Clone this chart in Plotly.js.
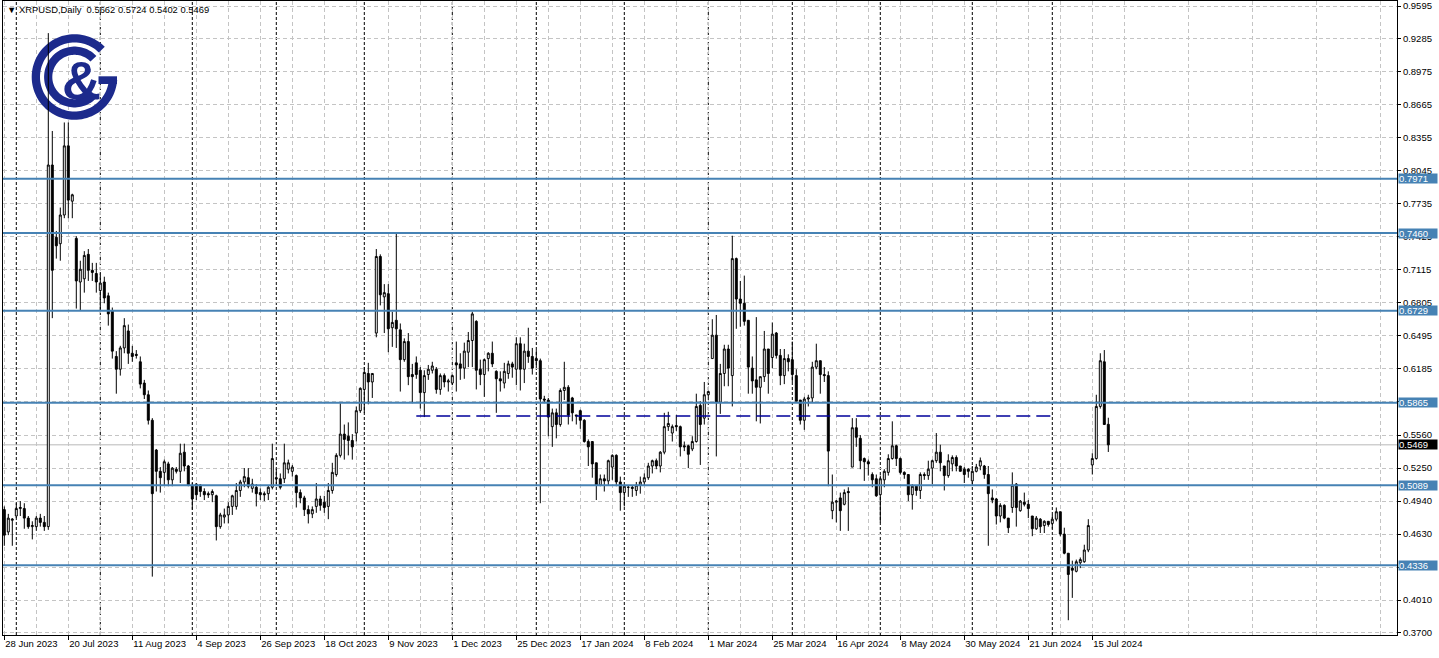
<!DOCTYPE html>
<html>
<head>
<meta charset="utf-8">
<script src="https://cdn.plot.ly/plotly-3.0.1.min.js"></script>
<style>
html,body{margin:0;padding:0;background:#fff;}
#chart{width:1439px;height:658px;}
</style>
</head>
<body>
<div id="chart"></div>
<script>
// ---------- DATA ----------
const symbolTitle = "XRPUSD,Daily";
const lastBarQuote = ["0.5662", "0.5724", "0.5402", "0.5469"];
const firstDate = "2023-06-28";
const holidays = ["2024-01-01"];

const openP = [
0.486,0.465,0.476,0.480,0.487,0.487,0.478,0.470,0.470,0.478,
0.474,0.470,0.810,0.742,0.736,0.763,0.828,0.776,0.741,0.700,
0.703,0.726,0.711,0.708,0.692,0.700,0.687,0.673,0.630,0.618,
0.638,0.654,0.633,0.632,0.625,0.605,0.594,0.570,0.542,0.522,
0.521,0.529,0.514,0.524,0.522,0.540,0.527,0.508,0.510,0.509,
0.503,0.501,0.500,0.499,0.470,0.479,0.481,0.489,0.489,0.504,
0.512,0.516,0.506,0.507,0.502,0.501,0.501,0.507,0.516,0.515,
0.515,0.524,0.522,0.518,0.502,0.497,0.486,0.482,0.489,0.496,
0.493,0.489,0.504,0.519,0.537,0.557,0.555,0.551,0.558,0.579,
0.599,0.614,0.606,0.652,0.724,0.686,0.689,0.657,0.664,0.655,
0.627,0.644,0.613,0.624,0.617,0.596,0.613,0.617,0.618,0.599,
0.612,0.606,0.605,0.624,0.623,0.619,0.634,0.645,0.663,0.618,
0.613,0.628,0.633,0.616,0.609,0.605,0.614,0.623,0.618,0.642,
0.618,0.635,0.630,0.628,0.626,0.590,0.589,0.564,0.577,0.566,
0.598,0.601,0.591,0.575,0.579,0.570,0.550,0.550,0.530,0.509,
0.515,0.513,0.526,0.537,0.512,0.502,0.507,0.507,0.504,0.509,
0.512,0.516,0.527,0.532,0.527,0.540,0.564,0.558,0.565,0.564,
0.546,0.546,0.543,0.550,0.584,0.572,0.594,0.628,0.650,0.587,
0.614,0.637,0.612,0.722,0.684,0.680,0.664,0.619,0.608,0.601,
0.611,0.637,0.629,0.652,0.631,0.612,0.628,0.627,0.612,0.589,
0.570,0.590,0.591,0.620,0.626,0.613,0.612,0.485,0.493,0.497,
0.491,0.503,0.526,0.563,0.553,0.534,0.531,0.519,0.515,0.500,
0.514,0.521,0.534,0.546,0.534,0.521,0.519,0.500,0.508,0.504,
0.519,0.518,0.525,0.532,0.540,0.527,0.518,0.529,0.535,0.527,
0.524,0.524,0.513,0.522,0.527,0.527,0.519,0.497,0.496,0.480,
0.490,0.478,0.488,0.510,0.485,0.493,0.491,0.480,0.468,0.477,
0.471,0.475,0.473,0.477,0.484,0.463,0.445,0.431,0.428,0.436,
0.437,0.448,0.528,0.534,0.583,0.625,0.5662
];
const highP = [
0.489,0.482,0.478,0.492,0.494,0.492,0.480,0.475,0.480,0.482,
0.480,0.934,0.842,0.748,0.770,0.850,0.850,0.783,0.743,0.720,
0.729,0.731,0.718,0.718,0.708,0.705,0.690,0.676,0.635,0.640,
0.666,0.660,0.640,0.636,0.630,0.608,0.598,0.572,0.543,0.526,
0.533,0.531,0.526,0.526,0.548,0.548,0.528,0.511,0.511,0.510,
0.506,0.503,0.505,0.500,0.483,0.487,0.493,0.500,0.511,0.514,
0.525,0.525,0.515,0.510,0.506,0.503,0.509,0.548,0.525,0.520,
0.548,0.533,0.528,0.519,0.505,0.499,0.490,0.489,0.511,0.499,
0.499,0.511,0.530,0.539,0.586,0.566,0.568,0.557,0.583,0.601,
0.620,0.624,0.614,0.731,0.726,0.698,0.698,0.672,0.747,0.661,
0.647,0.652,0.623,0.630,0.620,0.617,0.622,0.625,0.620,0.614,
0.614,0.609,0.613,0.644,0.633,0.643,0.653,0.672,0.664,0.627,
0.628,0.634,0.644,0.617,0.616,0.624,0.626,0.625,0.648,0.648,
0.642,0.657,0.638,0.636,0.628,0.593,0.591,0.581,0.581,0.600,
0.625,0.603,0.592,0.575,0.580,0.571,0.552,0.550,0.530,0.519,
0.519,0.533,0.538,0.538,0.517,0.509,0.509,0.509,0.512,0.517,
0.520,0.530,0.533,0.534,0.541,0.577,0.578,0.566,0.575,0.565,
0.550,0.547,0.555,0.595,0.588,0.606,0.598,0.665,0.669,0.623,
0.641,0.641,0.7435,0.723,0.701,0.706,0.664,0.630,0.667,0.611,
0.654,0.637,0.662,0.653,0.637,0.637,0.632,0.644,0.618,0.589,
0.592,0.594,0.625,0.642,0.626,0.620,0.616,0.519,0.495,0.502,
0.505,0.507,0.572,0.572,0.556,0.535,0.533,0.521,0.519,0.518,
0.524,0.538,0.569,0.547,0.535,0.522,0.519,0.510,0.509,0.521,
0.521,0.532,0.533,0.558,0.547,0.527,0.538,0.537,0.537,0.527,
0.526,0.525,0.527,0.529,0.535,0.528,0.527,0.505,0.497,0.492,
0.491,0.478,0.521,0.511,0.495,0.502,0.495,0.480,0.480,0.478,
0.476,0.475,0.481,0.488,0.484,0.469,0.445,0.438,0.439,0.441,
0.453,0.477,0.539,0.594,0.633,0.636,0.5724
];
const lowP = [
0.452,0.462,0.452,0.478,0.480,0.468,0.468,0.458,0.466,0.470,
0.466,0.467,0.666,0.722,0.720,0.760,0.760,0.760,0.675,0.673,
0.690,0.701,0.701,0.690,0.673,0.680,0.659,0.628,0.595,0.612,
0.633,0.623,0.625,0.628,0.600,0.590,0.566,0.423,0.503,0.502,
0.509,0.508,0.508,0.520,0.511,0.522,0.508,0.486,0.495,0.498,
0.495,0.497,0.493,0.457,0.468,0.473,0.473,0.481,0.486,0.498,
0.507,0.506,0.502,0.489,0.495,0.494,0.495,0.505,0.510,0.505,
0.511,0.520,0.517,0.488,0.492,0.480,0.473,0.478,0.483,0.485,
0.483,0.477,0.501,0.517,0.535,0.533,0.537,0.533,0.550,0.577,
0.577,0.585,0.591,0.648,0.678,0.652,0.634,0.639,0.638,0.597,
0.625,0.603,0.586,0.609,0.581,0.573,0.608,0.614,0.595,0.594,
0.601,0.597,0.603,0.597,0.608,0.609,0.620,0.620,0.599,0.603,
0.592,0.616,0.620,0.577,0.597,0.600,0.609,0.610,0.603,0.598,
0.605,0.624,0.613,0.620,0.492,0.586,0.555,0.545,0.553,0.564,
0.589,0.566,0.569,0.566,0.562,0.549,0.527,0.516,0.495,0.508,
0.503,0.509,0.514,0.508,0.485,0.489,0.498,0.498,0.499,0.501,
0.509,0.514,0.520,0.524,0.521,0.538,0.560,0.550,0.560,0.536,
0.541,0.525,0.541,0.549,0.528,0.566,0.592,0.628,0.536,0.576,
0.602,0.602,0.583,0.656,0.658,0.659,0.595,0.595,0.569,0.567,
0.606,0.595,0.619,0.628,0.603,0.604,0.616,0.606,0.588,0.566,
0.561,0.583,0.587,0.618,0.595,0.606,0.508,0.477,0.474,0.466,
0.490,0.466,0.526,0.545,0.524,0.513,0.518,0.507,0.498,0.474,
0.507,0.518,0.533,0.527,0.519,0.515,0.494,0.486,0.499,0.496,
0.514,0.514,0.510,0.530,0.522,0.504,0.516,0.522,0.522,0.522,
0.511,0.516,0.510,0.521,0.523,0.515,0.452,0.492,0.472,0.474,
0.477,0.464,0.483,0.470,0.484,0.489,0.478,0.461,0.467,0.464,
0.464,0.470,0.468,0.475,0.461,0.444,0.382,0.403,0.427,0.431,
0.436,0.446,0.519,0.533,0.581,0.566,0.5402
];
const closeP = [
0.462,0.478,0.477,0.487,0.488,0.478,0.470,0.471,0.478,0.474,
0.470,0.810,0.711,0.734,0.763,0.828,0.777,0.782,0.701,0.712,
0.725,0.711,0.709,0.700,0.699,0.685,0.670,0.635,0.618,0.638,
0.659,0.633,0.630,0.631,0.604,0.594,0.570,0.501,0.522,0.516,
0.531,0.514,0.525,0.522,0.539,0.527,0.509,0.496,0.500,0.503,
0.500,0.500,0.503,0.470,0.481,0.481,0.489,0.499,0.504,0.512,
0.517,0.508,0.510,0.501,0.500,0.500,0.507,0.534,0.515,0.507,
0.530,0.530,0.526,0.502,0.497,0.486,0.482,0.486,0.496,0.490,
0.488,0.504,0.521,0.537,0.557,0.552,0.551,0.545,0.579,0.600,
0.615,0.606,0.614,0.724,0.688,0.690,0.656,0.662,0.656,0.627,
0.644,0.611,0.611,0.613,0.596,0.612,0.618,0.621,0.599,0.612,
0.606,0.607,0.612,0.622,0.619,0.635,0.645,0.670,0.617,0.613,
0.627,0.633,0.623,0.609,0.607,0.616,0.623,0.620,0.642,0.618,
0.635,0.630,0.619,0.626,0.590,0.589,0.573,0.577,0.566,0.598,
0.601,0.575,0.577,0.574,0.570,0.550,0.545,0.529,0.509,0.515,
0.513,0.532,0.537,0.512,0.502,0.508,0.507,0.506,0.509,0.512,
0.516,0.527,0.532,0.527,0.540,0.564,0.567,0.564,0.564,0.545,
0.545,0.538,0.550,0.583,0.566,0.594,0.597,0.650,0.587,0.614,
0.637,0.619,0.722,0.684,0.680,0.663,0.620,0.607,0.601,0.611,
0.637,0.614,0.651,0.631,0.612,0.628,0.625,0.613,0.588,0.570,
0.590,0.591,0.620,0.626,0.613,0.612,0.541,0.493,0.494,0.485,
0.502,0.502,0.563,0.554,0.532,0.531,0.529,0.514,0.499,0.515,
0.522,0.534,0.546,0.534,0.521,0.519,0.500,0.508,0.504,0.519,
0.518,0.524,0.532,0.540,0.530,0.518,0.532,0.535,0.527,0.522,
0.519,0.522,0.522,0.526,0.532,0.519,0.501,0.495,0.480,0.490,
0.478,0.469,0.509,0.488,0.494,0.491,0.487,0.468,0.478,0.470,
0.475,0.472,0.477,0.484,0.463,0.445,0.425,0.429,0.437,0.439,
0.448,0.471,0.534,0.583,0.626,0.566,0.5469
];

const labelDates = ["2023-06-28","2023-07-20","2023-08-11","2023-09-04","2023-09-26","2023-10-18",
  "2023-11-09","2023-12-01","2023-12-25","2024-01-17","2024-02-08","2024-03-01","2024-03-25",
  "2024-04-16","2024-05-08","2024-05-30","2024-06-21","2024-07-15"];
const labelTexts = ["28 Jun 2023","20 Jul 2023","11 Aug 2023","4 Sep 2023","26 Sep 2023","18 Oct 2023",
  "9 Nov 2023","1 Dec 2023","25 Dec 2023","17 Jan 2024","8 Feb 2024","1 Mar 2024","25 Mar 2024",
  "16 Apr 2024","8 May 2024","30 May 2024","21 Jun 2024","15 Jul 2024"];
const monthStarts = ["2023-07-03","2023-08-01","2023-09-01","2023-10-02","2023-11-01","2023-12-01",
  "2024-01-02","2024-02-01","2024-03-01","2024-04-01","2024-05-01","2024-06-03","2024-07-01"];

const priceTickVals = [0.9595,0.9285,0.8975,0.8665,0.8355,0.8045,0.7735,0.7425,0.7115,0.6805,
  0.6495,0.6185,0.5875,0.5560,0.5250,0.4940,0.4630,0.4320,0.4010,0.3700];
const priceTickText = ["0.9595","0.9285","0.8975","0.8665","0.8355","0.8045","0.7735","0.7425","0.7115","0.6805",
  "0.6495","0.6185","","0.5560","0.5250","0.4940","0.4630","","0.4010","0.3700"];

const levels = [0.7971, 0.7460, 0.6729, 0.5865, 0.5089, 0.4336];
const bidPrice = 0.5469;
const trendLine = {from: "2023-11-20", to: "2024-07-02", price: 0.5740};

// ---------- CALENDAR (trading days: weekdays without holidays) ----------
function tradingDays(start, n, skip) {
  const out = [];
  const d = new Date(start + "T00:00:00Z");
  while (out.length < n) {
    const w = d.getUTCDay();
    const s = d.toISOString().slice(0, 10);
    if (w !== 0 && w !== 6 && skip.indexOf(s) < 0) out.push(s);
    d.setUTCDate(d.getUTCDate() + 1);
  }
  return out;
}
const dates = tradingDays(firstDate, openP.length, holidays);
const idx = dates.map((d, i) => i);
const pos = d => dates.indexOf(d);

// ---------- LAYOUT CONSTANTS ----------
const W = 1439, H = 658;
const mL = 3, mR = 42, mT = 1, mB = 23;
const plotW = W - mL - mR, plotH = H - mT - mB;
const FONT = "Liberation Sans, Arial, sans-serif";
const GRID = "#c4c4c4";
const BLUE = "#4682b4";
const NAVY = "#1c2a8c";

const pxPerBar = 4;
const x0px = 4.3 - mL;
const xRange = [-x0px / pxPerBar, -x0px / pxPerBar + plotW / pxPerBar];
const pxPerUnit = 1063.6;
const yTop = 0.9595 + (6 - mT) / pxPerUnit;
const yBot = yTop - plotH / pxPerUnit;

const trace = {
  type: "candlestick",
  x: idx,
  open: openP, high: highP, low: lowP, close: closeP,
  hovertext: dates, hoverinfo: "text",
  whiskerwidth: 0,
  increasing: {line: {color: "#000000", width: 1}, fillcolor: "#ffffff"},
  decreasing: {line: {color: "#000000", width: 1}, fillcolor: "#000000"},
  showlegend: false
};

const shapes = [];
monthStarts.forEach(d => {
  shapes.push({type: "line", xref: "x", yref: "paper", x0: pos(d), x1: pos(d), y0: 0, y1: 1,
    line: {color: "#000000", width: 1, dash: "3px,2px"}, layer: "below"});
});
shapes.push({type: "line", xref: "paper", yref: "y", x0: 0, x1: 1, y0: bidPrice, y1: bidPrice,
  line: {color: "#b8b8b8", width: 1}, layer: "below"});
levels.forEach(v => {
  shapes.push({type: "line", xref: "paper", yref: "y", x0: 0, x1: 1, y0: v, y1: v,
    line: {color: BLUE, width: 2}, layer: "above"});
});
shapes.push({type: "line", xref: "x", yref: "y", x0: pos(trendLine.from), x1: pos(trendLine.to),
  y0: trendLine.price, y1: trendLine.price,
  line: {color: "#00009a", width: 1.4, dash: "14px,6px"}, layer: "above"});

// ---------- LOGO (pixel geometry -> axis coordinates), drawn between grid and candles ----------
const px2x = p => xRange[0] + (p - mL) / pxPerBar;
const px2y = p => yTop - (p - mT) / pxPerUnit;
function toPath(pts) {
  return "M" + pts.map(p => px2x(p[0]).toFixed(4) + "," + px2y(p[1]).toFixed(5)).join("L") + "Z";
}
function ringSector(cx, cy, rIn, rOut, a0, a1, steps) {
  const pts = [];
  for (let k = 0; k <= steps; k++) {
    const a = (a0 + (a1 - a0) * k / steps) * Math.PI / 180;
    pts.push([cx + rOut * Math.cos(a), cy + rOut * Math.sin(a)]);
  }
  for (let k = steps; k >= 0; k--) {
    const a = (a0 + (a1 - a0) * k / steps) * Math.PI / 180;
    pts.push([cx + rIn * Math.cos(a), cy + rIn * Math.sin(a)]);
  }
  return toPath(pts);
}
const logoCx = 74.5, logoCy = 77;
[ringSector(logoCx, logoCy, 34.5, 42.8, -45, -356, 90),
 toPath([[98.5, 76.3], [117, 76.3], [117, 84], [98.5, 84]]),
 ringSector(logoCx, logoCy, 22.2, 30.4, -44, -316, 80)].forEach(p => {
  shapes.push({type: "path", xref: "x", yref: "y", path: p,
    fillcolor: NAVY, line: {width: 0}, layer: "between"});
});

const annotations = [];
levels.forEach(v => {
  annotations.push({xref: "paper", yref: "y", x: 1, y: v, xanchor: "left", yanchor: "middle",
    xshift: 1, text: v.toFixed(4), showarrow: false, bgcolor: BLUE, borderpad: 0,
    width: 38, height: 9, align: "left",
    font: {family: FONT, size: 9.5, color: "#ffffff"}});
});
annotations.push({xref: "paper", yref: "y", x: 1, y: bidPrice, xanchor: "left", yanchor: "middle",
  xshift: 1, text: bidPrice.toFixed(4), showarrow: false, bgcolor: "#000000", borderpad: 0,
  width: 38, height: 9, align: "left",
  font: {family: FONT, size: 9.5, color: "#ffffff"}});
annotations.push({xref: "paper", yref: "paper", x: 2 / plotW, y: 1, xanchor: "left", yanchor: "top",
  yshift: -1, showarrow: false, align: "left",
  text: "\u25BC " + symbolTitle + "\u00a0\u00a0" + lastBarQuote.join(" "),
  font: {family: FONT, size: 9.4, color: "#000000"}});
annotations.push({xref: "x", yref: "y", x: px2x(81.4), y: px2y(80.3),
  xanchor: "center", yanchor: "middle", showarrow: false, text: "&",
  font: {family: FONT, size: 54, color: NAVY, weight: "bold"}});

const xTickVals = labelDates.map(pos);

const layout = {
  width: W, height: H,
  margin: {l: mL, r: mR, t: mT, b: mB, pad: 0},
  paper_bgcolor: "#ffffff",
  plot_bgcolor: "#ffffff",
  font: {family: FONT, size: 9.5, color: "#000000"},
  showlegend: false,
  dragmode: false,
  xaxis: {
    type: "linear", range: xRange, fixedrange: true,
    rangeslider: {visible: false},
    tickmode: "array", tickvals: xTickVals, ticktext: labelTexts,
    ticks: "outside", ticklen: 4, tickcolor: "#000000", tickwidth: 1,
    ticklabelposition: "outside right",
    tickfont: {family: FONT, size: 9.5, color: "#000000"},
    showgrid: true, gridcolor: GRID, gridwidth: 1, griddash: "4px,3px",
    minor: {tickmode: "linear", tick0: 8, dtick: 16, showgrid: true, gridcolor: GRID, gridwidth: 1,
      griddash: "4px,3px", ticks: ""},
    showline: true, linecolor: "#000000", linewidth: 1, mirror: true, zeroline: false
  },
  yaxis: {
    side: "right", range: [yBot, yTop], fixedrange: true,
    tickmode: "array", tickvals: priceTickVals, ticktext: priceTickText,
    ticks: "outside", ticklen: 3, tickcolor: "#000000", tickwidth: 1,
    tickfont: {family: FONT, size: 9.5, color: "#000000"},
    showgrid: true, gridcolor: GRID, gridwidth: 1, griddash: "4px,3px",
    showline: true, linecolor: "#000000", linewidth: 1, mirror: true, zeroline: false
  },
  shapes: shapes,
  annotations: annotations
};

Plotly.newPlot("chart", [trace], layout, {displayModeBar: false, staticPlot: true});
</script>
</body>
</html>
